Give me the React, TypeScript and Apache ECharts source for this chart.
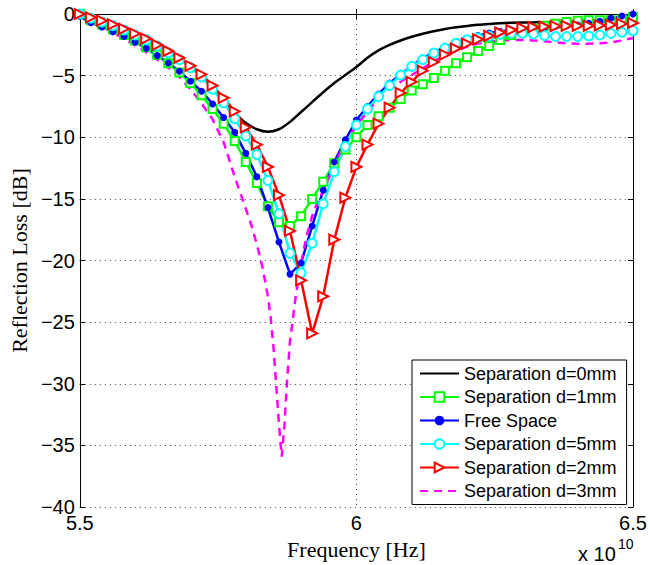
import React, { useEffect, useRef } from "react";
import * as echarts from "echarts";

// Frequency axis in units of 1e10 Hz
const freq = [
  5.5, 5.52, 5.54, 5.56, 5.58, 5.6, 5.62, 5.64, 5.66, 5.68,
  5.7, 5.72, 5.74, 5.76, 5.78, 5.8, 5.82, 5.84, 5.86, 5.88,
  5.9, 5.92, 5.94, 5.96, 5.98, 6.0, 6.02, 6.04, 6.06, 6.08,
  6.1, 6.12, 6.14, 6.16, 6.18, 6.2, 6.22, 6.24, 6.26, 6.28,
  6.3, 6.32, 6.34, 6.36, 6.38, 6.4, 6.42, 6.44, 6.46, 6.48, 6.5,
];

const sep0mm = [
  0, -0.3, -0.6, -0.9, -1.25, -1.65, -2.05, -2.55, -3.1, -3.65,
  -4.3, -5.0, -5.9, -6.9, -8.0, -8.85, -9.35, -9.55, -9.35, -8.75,
  -7.95, -7.15, -6.35, -5.6, -4.95, -4.3, -3.55, -2.95, -2.5, -2.15,
  -1.85, -1.6, -1.4, -1.22, -1.08, -0.97, -0.88, -0.81, -0.75, -0.71,
  -0.69, -0.68, -0.67, -0.67, -0.67, -0.67, -0.67, -0.67, -0.67, -0.67, -0.67,
];

const sep1mm = [
  0, -0.5, -0.85, -1.25, -1.7, -2.15, -2.7, -3.3, -4.0, -4.75,
  -5.6, -6.6, -7.7, -8.9, -10.3, -12.0, -13.7, -15.6, -16.9, -17.2,
  -16.4, -15.0, -13.6, -12.1, -11.0, -10.0, -9.0, -8.3, -7.6, -6.9,
  -6.2, -5.7, -5.2, -4.6, -4.0, -3.5, -3.0, -2.6, -2.1, -1.7,
  -1.4, -1.2, -0.95, -0.8, -0.65, -0.55, -0.5, -0.5, -0.5, -0.45, -0.25,
];

const freeSpace = [
  -0.2, -0.7, -1.05, -1.43, -1.83, -2.28, -2.77, -3.36, -3.98, -4.65,
  -5.46, -6.26, -7.3, -8.4, -9.6, -11.3, -13.2, -15.7, -18.5, -21.1,
  -20.2, -17.2, -14.3, -12.0, -10.2, -8.6, -7.5, -6.5, -5.6, -4.9,
  -4.2, -3.6, -3.1, -2.7, -2.3, -2.0, -1.75, -1.55, -1.4, -1.3,
  -1.2, -1.15, -1.1, -1.0, -0.95, -0.9, -0.75, -0.6, -0.35, -0.16, 0,
];

const sep5mm = [
  0, -0.35, -0.65, -0.95, -1.3, -1.7, -2.1, -2.6, -3.15, -3.7,
  -4.35, -5.1, -6.1, -7.2, -8.5, -9.9, -11.4, -13.5, -16.2, -19.4,
  -21.0, -18.6, -15.4, -12.8, -10.75, -9.0, -7.7, -6.7, -5.8, -4.95,
  -4.25, -3.7, -3.17, -2.77, -2.37, -2.1, -1.95, -1.8, -1.65, -1.57,
  -1.56, -1.63, -1.75, -1.82, -1.83, -1.83, -1.78, -1.7, -1.57, -1.48, -1.35,
];

const sep2mm = [
  0, -0.27, -0.54, -0.85, -1.2, -1.6, -2.0, -2.5, -3.0, -3.55,
  -4.2, -4.9, -5.8, -6.8, -7.9, -9.2, -10.6, -12.4, -14.7, -17.6,
  -21.6, -25.9, -22.9, -18.3, -14.9, -12.4, -10.6, -8.9, -7.6, -6.4,
  -5.5, -4.6, -3.9, -3.3, -2.8, -2.4, -2.05, -1.78, -1.5, -1.3,
  -1.15, -1.07, -1.02, -0.99, -0.97, -0.97, -0.96, -0.93, -0.88, -0.8, -0.73,
];

const sep3mmFreq = [
  5.5, 5.52, 5.54, 5.56, 5.58, 5.6, 5.62, 5.64, 5.66, 5.68,
  5.7, 5.72, 5.74, 5.76, 5.78, 5.8, 5.81, 5.82, 5.83, 5.84,
  5.845, 5.85, 5.855, 5.86, 5.865, 5.87, 5.875, 5.88, 5.885, 5.89,
  5.9, 5.91, 5.92, 5.93, 5.94, 5.96, 5.98, 6.0, 6.02, 6.04,
  6.06, 6.08, 6.1, 6.12, 6.14, 6.16, 6.18, 6.2, 6.22, 6.24,
  6.26, 6.28, 6.3, 6.32, 6.34, 6.36, 6.38, 6.4, 6.42, 6.44,
  6.46, 6.48, 6.5,
];
const sep3mm = [
  0, -0.45, -0.95, -1.5, -2.0, -2.55, -3.1, -3.7, -4.35, -5.1,
  -6.1, -7.25, -8.55, -10.4, -13.2, -15.8, -17.1, -18.7, -20.5, -22.9,
  -24.6, -27.0, -30.1, -33.3, -35.9, -33.3, -29.5, -26.5, -24.8, -23.0,
  -20.2, -18.0, -16.4, -15.2, -14.4, -12.2, -10.4, -9.1, -7.9, -6.9,
  -6.1, -5.5, -4.95, -4.4, -3.85, -3.4, -3.0, -2.65, -2.4, -2.25,
  -2.15, -2.1, -2.1, -2.15, -2.22, -2.3, -2.38, -2.42, -2.42, -2.38,
  -2.3, -2.15, -1.95,
];

const xTicks = { min: 5.5, max: 6.5, interval: 0.5 };
const yTicks = { min: -40, max: 0, interval: 5 };

const pairs = (xs: number[], ys: number[]) => xs.map((x, i) => [x, ys[i]]);

export default function App() {
  const ref = useRef<HTMLDivElement>(null);
  useEffect(() => {
    if (!ref.current) return;
    const chart = echarts.init(ref.current, undefined, { renderer: "svg" });
    const font = "Liberation Sans";
    const tickFont = { fontSize: 20, fontFamily: font, color: "#000" };
    const lw = 2.5;
    const noMarker = { opacity: 0, color: "rgba(0,0,0,0)", borderWidth: 0 };
    chart.setOption({
      animation: false,
      backgroundColor: "#fff",
      grid: { left: 77, right: 17, top: 14, bottom: 56, containLabel: false },
      xAxis: [
        {
          type: "value",
          ...xTicks,
          position: "bottom",
          name: "Frequency [Hz]",
          nameLocation: "middle",
          nameGap: 24,
          nameTextStyle: { fontSize: 22, fontFamily: "Liberation Serif", color: "#000" },
          axisLine: { lineStyle: { color: "#000", width: 1 } },
          axisTick: { inside: true, length: 5, lineStyle: { color: "#000" } },
          axisLabel: { ...tickFont, margin: 6, showMinLabel: true, showMaxLabel: true },
          splitLine: { show: true, lineStyle: { color: "#444", type: [1, 4], width: 1 } },
        },
        {
          type: "value",
          ...xTicks,
          position: "top",
          axisLine: { lineStyle: { color: "#000", width: 1 } },
          axisTick: { inside: true, length: 5, lineStyle: { color: "#000" } },
          axisLabel: { show: false },
          splitLine: { show: false },
        },
      ],
      yAxis: [
        {
          type: "value",
          ...yTicks,
          position: "left",
          name: "Reflection Loss [dB]",
          nameLocation: "middle",
          nameGap: 46,
          nameTextStyle: { fontSize: 22, fontFamily: "Liberation Serif", color: "#000" },
          axisLine: { show: true, lineStyle: { color: "#000", width: 1 } },
          axisTick: { show: true, inside: true, length: 5, lineStyle: { color: "#000" } },
          axisLabel: {
            ...tickFont,
            margin: 5,
            formatter: (v: number) => String(v).replace("-", "\u2212"),
          },
          splitLine: { show: true, lineStyle: { color: "#444", type: [1, 4], width: 1 } },
        },
        {
          type: "value",
          ...yTicks,
          position: "right",
          axisLine: { show: true, lineStyle: { color: "#000", width: 1 } },
          axisTick: { show: true, inside: true, length: 5, lineStyle: { color: "#000" } },
          axisLabel: { show: false },
          splitLine: { show: false },
        },
      ],
      legend: {
        orient: "vertical",
        left: 412,
        top: 360,
        backgroundColor: "#fff",
        borderColor: "#000",
        borderWidth: 1,
        borderRadius: 0,
        padding: [4, 10, 4, 7],
        itemGap: 4.5,
        itemWidth: 39,
        itemHeight: 12,
        textStyle: { fontSize: 18, fontFamily: font, color: "#000", lineHeight: 19 },
        data: [
          { name: "Separation d=0mm", itemStyle: noMarker },
          { name: "Separation d=1mm" },
          { name: "Free Space" },
          { name: "Separation d=5mm" },
          { name: "Separation d=2mm" },
          { name: "Separation d=3mm", itemStyle: noMarker },
        ],
      },
      graphic: [
        {
          type: "text",
          x: 578,
          y: 544,
          style: { text: "x 10", font: `20px "${font}"`, fill: "#000", verticalAlign: "top" },
        },
        {
          type: "text",
          x: 618,
          y: 537,
          style: { text: "10", font: `14px "${font}"`, fill: "#000", verticalAlign: "top" },
        },
      ],
      series: [
        {
          name: "Separation d=0mm",
          type: "line",
          data: pairs(freq, sep0mm),
          smooth: 0.3,
          showSymbol: false,
          symbol: "none",
          lineStyle: { color: "#000", width: lw },
          itemStyle: { color: "#000" },
        },
        {
          name: "Separation d=1mm",
          type: "line",
          data: pairs(freq, sep1mm),
          symbol: "emptyRect",
          symbolSize: 8,
          lineStyle: { color: "#00ff00", width: lw },
          itemStyle: { color: "#00ff00", borderWidth: 2 },
        },
        {
          name: "Free Space",
          type: "line",
          data: pairs(freq, freeSpace),
          symbol: "circle",
          symbolSize: 7,
          lineStyle: { color: "#0000ff", width: lw },
          itemStyle: { color: "#0000ff" },
        },
        {
          name: "Separation d=5mm",
          type: "line",
          data: pairs(freq, sep5mm),
          symbol: "emptyCircle",
          symbolSize: 9,
          lineStyle: { color: "#00ffff", width: lw },
          itemStyle: { color: "#00ffff", borderWidth: 2 },
        },
        {
          name: "Separation d=2mm",
          type: "line",
          data: pairs(freq, sep2mm),
          symbol: "emptyTriangle",
          symbolSize: 10,
          symbolRotate: -90,
          lineStyle: { color: "#ff0000", width: lw },
          itemStyle: { color: "#ff0000", borderWidth: 2 },
        },
        {
          name: "Separation d=3mm",
          type: "line",
          data: pairs(sep3mmFreq, sep3mm),
          symbol: "none",
          showSymbol: false,
          lineStyle: { color: "#ff00ff", width: lw, type: [8, 6] },
          itemStyle: { color: "#ff00ff" },
        },
      ],
    });
    return () => chart.dispose();
  }, []);
  return (
    <div
      ref={ref}
      style={{ position: "absolute", left: 0, top: 0, width: 650, height: 565 }}
    />
  );
}
